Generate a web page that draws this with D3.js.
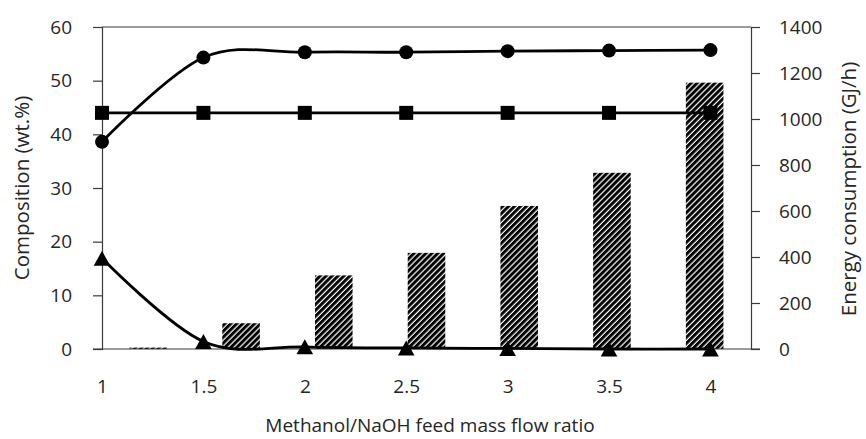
<!DOCTYPE html>
<html>
<head>
<meta charset="utf-8">
<script src="https://cdn.jsdelivr.net/npm/d3@7"></script>
<style>
  html, body { margin: 0; padding: 0; background: #fff; }
  svg { display: block; font-family: "Open Sans", "Noto Sans", sans-serif; }
</style>
</head>
<body>
<svg id="chart" width="866" height="439"></svg>
<script>
// Methanol/NaOH feed mass flow ratio
const ratios = [1, 1.5, 2, 2.5, 3, 3.5, 4];
const ratioLabels = ["1", "1.5", "2", "2.5", "3", "3.5", "4"];

// Composition (wt.%)
const seriesCircle = [38.6, 54.3, 55.3, 55.3, 55.5, 55.6, 55.7];
const seriesSquare = [44.0, 44.0, 44.0, 44.0, 44.0, 44.0, 44.0];
const seriesTriangle = [16.9, 1.4, 0.4, 0.2, 0.1, 0.0, 0.0];

// Energy consumption (GJ/h)
const energy = [6, 112, 320, 418, 622, 766, 1158];

const leftTicks = [0, 10, 20, 30, 40, 50, 60];
const rightTicks = [0, 200, 400, 600, 800, 1000, 1200, 1400];

const svg = d3.select("#chart");
const plot = { left: 102, right: 751, top: 27, bottom: 349 };
const axisColor = "#3a3a3a";
const textColor = "#262626";
const labelFont = "19px";
const titleFont = "20.5px";

const x = d3.scaleLinear().domain([1, 4.2]).range([plot.left, plot.right]);
const xBand = d3.scaleBand().domain(ratioLabels)
  .range([plot.left, plot.right]).paddingInner(0.595).paddingOuter(0.2975);
const yL = d3.scaleLinear().domain([0, 60]).range([plot.bottom, plot.top]);
const yR = d3.scaleLinear().domain([0, 1400]).range([plot.bottom, plot.top]);

// hatch fill for the energy bars
const defs = svg.append("defs");
const pat = defs.append("pattern")
  .attr("id", "hatch")
  .attr("patternUnits", "userSpaceOnUse")
  .attr("width", 4.2).attr("height", 4.2)
  .attr("patternTransform", "rotate(45)");
pat.append("rect").attr("width", 4.2).attr("height", 4.2).attr("fill", "#fff");
pat.append("rect").attr("width", 3.0).attr("height", 4.2).attr("fill", "#000");

// energy bars (secondary axis)
svg.append("g").selectAll("rect")
  .data(energy)
  .join("rect")
  .attr("x", (d, i) => xBand(ratioLabels[i]))
  .attr("width", xBand.bandwidth())
  .attr("y", d => yR(d))
  .attr("height", d => yR(0) - yR(d))
  .attr("fill", "url(#hatch)");

// plot frame: top border
svg.append("line")
  .attr("x1", plot.left).attr("x2", plot.right)
  .attr("y1", plot.top).attr("y2", plot.top)
  .attr("stroke", axisColor).attr("stroke-width", 1.2);

// left axis
const gL = svg.append("g").attr("transform", `translate(${plot.left},0)`)
  .call(d3.axisLeft(yL).tickValues(leftTicks).tickFormat(d3.format("d"))
    .tickSize(9).tickPadding(21));
// right axis
const gR = svg.append("g").attr("transform", `translate(${plot.right},0)`)
  .call(d3.axisRight(yR).tickValues(rightTicks).tickFormat(d3.format("d"))
    .tickSize(9).tickPadding(19));
// bottom axis (no tick marks)
const gB = svg.append("g").attr("transform", `translate(0,${plot.bottom})`)
  .call(d3.axisBottom(x).tickValues(ratios).tickFormat((d, i) => ratioLabels[i])
    .tickSize(0).tickPadding(31));

[gL, gR, gB].forEach(g => {
  g.attr("font-size", labelFont).attr("font-family", "'Open Sans', 'Noto Sans', sans-serif");
  g.select(".domain").attr("stroke", axisColor).attr("stroke-width", 1.2);
  g.selectAll(".tick line").attr("stroke", axisColor).attr("stroke-width", 1.2);
  g.selectAll(".tick text").attr("fill", textColor);
});
gB.select(".domain").attr("d", `M${plot.left - 9},0H${plot.right + 9}`);

// smoothed composition lines
const line = d3.line()
  .x((d, i) => x(ratios[i]))
  .y(d => yL(d))
  .curve(d3.curveCardinal.tension(0));

const allSeries = [seriesSquare, seriesTriangle, seriesCircle];
svg.append("g").selectAll("path")
  .data(allSeries)
  .join("path")
  .attr("d", d => line(d))
  .attr("fill", "none")
  .attr("stroke", "#000")
  .attr("stroke-width", 2.8);

// markers
svg.append("g").selectAll("circle")
  .data(seriesCircle)
  .join("circle")
  .attr("cx", (d, i) => x(ratios[i]))
  .attr("cy", d => yL(d))
  .attr("r", 7)
  .attr("fill", "#000");

svg.append("g").selectAll("rect")
  .data(seriesSquare)
  .join("rect")
  .attr("x", (d, i) => x(ratios[i]) - 7)
  .attr("y", d => yL(d) - 7)
  .attr("width", 14).attr("height", 14)
  .attr("fill", "#000");

svg.append("g").selectAll("path")
  .data(seriesTriangle)
  .join("path")
  .attr("d", (d, i) => {
    const cx = x(ratios[i]), cy = yL(d);
    return `M${cx},${cy - 7.5}L${cx + 8.3},${cy + 7.5}L${cx - 8.3},${cy + 7.5}Z`;
  })
  .attr("fill", "#000");

// axis titles
svg.append("text")
  .attr("transform", "translate(29,188) rotate(-90)")
  .attr("text-anchor", "middle")
  .attr("fill", textColor)
  .attr("font-size", titleFont)
  .text("Composition (wt.%)");

svg.append("text")
  .attr("transform", "translate(856,189) rotate(-90)")
  .attr("text-anchor", "middle")
  .attr("fill", textColor)
  .attr("font-size", titleFont)
  .text("Energy consumption (GJ/h)");

svg.append("text")
  .attr("x", 430).attr("y", 432)
  .attr("text-anchor", "middle")
  .attr("fill", textColor)
  .attr("font-size", labelFont)
  .text("Methanol/NaOH feed mass flow ratio");
</script>
</body>
</html>
